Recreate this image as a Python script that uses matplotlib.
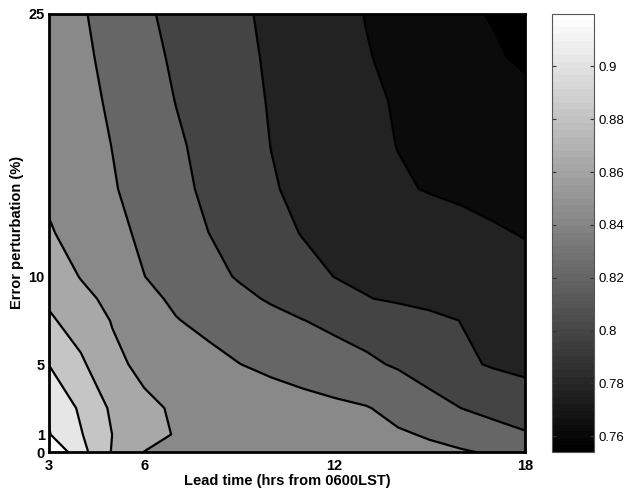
import numpy as np
import matplotlib
matplotlib.use('Agg')
import matplotlib.pyplot as plt
from matplotlib.colors import Normalize
from matplotlib.cm import ScalarMappable
from matplotlib.ticker import FuncFormatter

# Grid: lead time (hours) along x, error perturbation (%) along y
lead_time = [3, 4, 5, 6, 7, 8, 9, 10, 11, 12, 13, 14, 15, 16, 17, 18]
perturbation = [0, 1, 2.5, 5, 7.5, 8.75, 10, 12.5, 15, 17.5, 20, 22.5, 25]

# Forecast skill, one row per perturbation level
skill = [
    [0.9200, 0.8923, 0.8690, 0.8534, 0.8519, 0.8504, 0.8490, 0.8473, 0.8458, 0.8443, 0.8428, 0.8412, 0.8397, 0.8382, 0.8355, 0.8304],
    [0.9042, 0.8880, 0.8700, 0.8592, 0.8526, 0.8506, 0.8486, 0.8466, 0.8446, 0.8426, 0.8405, 0.8385, 0.8358, 0.8314, 0.8267, 0.8221],
    [0.9017, 0.8843, 0.8675, 0.8566, 0.8519, 0.8495, 0.8471, 0.8448, 0.8425, 0.8402, 0.8378, 0.8329, 0.8265, 0.8203, 0.8156, 0.8108],
    [0.8865, 0.8730, 0.8571, 0.8501, 0.8458, 0.8415, 0.8372, 0.8337, 0.8302, 0.8265, 0.8231, 0.8187, 0.8124, 0.8061, 0.8026, 0.8008],
    [0.8727, 0.8626, 0.8528, 0.8453, 0.8377, 0.8332, 0.8290, 0.8249, 0.8207, 0.8172, 0.8138, 0.8103, 0.8070, 0.8035, 0.7997, 0.7960],
    [0.8674, 0.8581, 0.8493, 0.8412, 0.8343, 0.8292, 0.8239, 0.8187, 0.8139, 0.8091, 0.8043, 0.8020, 0.8000, 0.7978, 0.7957, 0.7937],
    [0.8636, 0.8529, 0.8451, 0.8372, 0.8310, 0.8249, 0.8191, 0.8138, 0.8084, 0.8036, 0.8015, 0.7995, 0.7973, 0.7953, 0.7932, 0.7912],
    [0.8549, 0.8481, 0.8412, 0.8342, 0.8274, 0.8206, 0.8144, 0.8084, 0.8031, 0.8008, 0.7983, 0.7958, 0.7935, 0.7910, 0.7885, 0.7865],
    [0.8511, 0.8446, 0.8382, 0.8314, 0.8244, 0.8177, 0.8113, 0.8050, 0.8006, 0.7967, 0.7927, 0.7887, 0.7864, 0.7849, 0.7835, 0.7821],
    [0.8499, 0.8433, 0.8367, 0.8295, 0.8226, 0.8161, 0.8098, 0.8036, 0.7993, 0.7950, 0.7907, 0.7869, 0.7852, 0.7835, 0.7819, 0.7802],
    [0.8486, 0.8418, 0.8348, 0.8274, 0.8201, 0.8143, 0.8084, 0.8028, 0.7983, 0.7938, 0.7894, 0.7862, 0.7842, 0.7822, 0.7804, 0.7784],
    [0.8476, 0.8403, 0.8327, 0.8250, 0.8182, 0.8126, 0.8071, 0.8020, 0.7973, 0.7927, 0.7880, 0.7840, 0.7804, 0.7766, 0.7739, 0.7662],
    [0.8466, 0.8387, 0.8307, 0.8226, 0.8166, 0.8113, 0.8060, 0.8010, 0.7962, 0.7915, 0.7867, 0.7824, 0.7779, 0.7748, 0.7689, 0.7540],
]

levels = [0.7706, 0.7872, 0.8038, 0.8204, 0.8370, 0.8536, 0.8702, 0.8868, 0.9034]
fill_colors = ['#000000', '#0b0b0b', '#222222', '#444444', '#666666',
               '#898989', '#a8a8a8', '#c5c5c5', '#e6e6e6', '#ffffff']

x_ticks = [3, 6, 12, 18]
y_ticks = [0, 1, 5, 10, 25]
cbar_ticks = [0.76, 0.78, 0.8, 0.82, 0.84, 0.86, 0.88, 0.9]
skill_min, skill_max = 0.754, 0.92

plt.rcParams['font.family'] = ['Liberation Sans', 'DejaVu Sans']

fig = plt.figure(figsize=(6.28, 4.91), dpi=100)
ax = fig.add_axes([0.078, 0.0794, 0.758, 0.893])

Z = np.array(skill)
bounds = [0.75] + levels + [0.925]
ax.contourf(lead_time, perturbation, Z, levels=bounds, colors=fill_colors)
ax.contour(lead_time, perturbation, Z, levels=levels, colors='k', linewidths=1.6)

ax.set_xlim(3, 18)
ax.set_ylim(0, 25)
ax.set_xticks(x_ticks)
ax.set_yticks(y_ticks)
ax.tick_params(length=0, labelsize=10.5)
ax.tick_params(axis='x', pad=5)
ax.tick_params(axis='y', pad=3)
for lbl in ax.get_xticklabels() + ax.get_yticklabels():
    lbl.set_fontweight('bold')
ax.set_xlabel('Lead time (hrs from 0600LST)', fontsize=10.5, fontweight='bold', labelpad=1)
ax.set_ylabel('Error perturbation (%)', fontsize=10.5, fontweight='bold', labelpad=3)
for sp in ax.spines.values():
    sp.set_linewidth(2)

# continuous colour scale beside the plot
cax = fig.add_axes([0.879, 0.0794, 0.0669, 0.893])
sm = ScalarMappable(norm=Normalize(skill_min, skill_max), cmap=plt.get_cmap('gray', 64))
cb = fig.colorbar(sm, cax=cax, ticks=cbar_ticks)
cb.ax.yaxis.set_major_formatter(FuncFormatter(lambda v, p: f'{v:g}'))
cb.ax.tick_params(direction='in', left=True, right=True, length=3, width=0.8,
                  labelsize=9.5, color='#333333', pad=3)
cb.outline.set_edgecolor('#555555')
cb.outline.set_linewidth(0.8)

fig.savefig('out.png', dpi=100)
